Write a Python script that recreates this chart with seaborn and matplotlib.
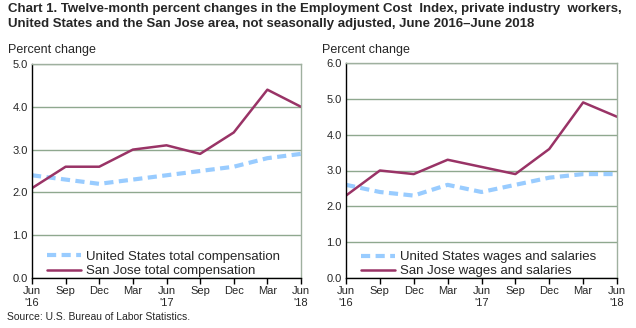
import matplotlib
matplotlib.use("Agg")
import matplotlib.pyplot as plt
import seaborn as sns
import pandas as pd
from matplotlib.lines import Line2D

quarters = ["Jun\n'16", "Sep", "Dec", "Mar", "Jun\n'17", "Sep", "Dec", "Mar", "Jun\n'18"]
us_total = [2.4, 2.3, 2.2, 2.3, 2.4, 2.5, 2.6, 2.8, 2.9]
sj_total = [2.1, 2.6, 2.6, 3.0, 3.1, 2.9, 3.4, 4.4, 4.0]
us_wages = [2.6, 2.4, 2.3, 2.6, 2.4, 2.6, 2.8, 2.9, 2.9]
sj_wages = [2.3, 3.0, 2.9, 3.3, 3.1, 2.9, 3.6, 4.9, 4.5]

sns.set_style("white")
plt.rcParams['font.family'] = ['Liberation Sans', 'DejaVu Sans']

BLUE = "#99CCFF"
MAROON = "#993366"

fig = plt.figure(figsize=(6.36, 3.28), dpi=100)
ax1 = fig.add_axes([32/636, 1-278/328, (301-32)/636, (278-64)/328])
ax2 = fig.add_axes([346/636, 1-278/328, (617-346)/636, (278-63)/328])

def panel(ax, us, sj, us_lab, sj_lab, ymax):
    x = list(range(len(quarters)))
    df = pd.DataFrame({"x": x * 2, "y": us + sj,
                       "series": [us_lab] * len(x) + [sj_lab] * len(x)})
    sns.lineplot(data=df, x="x", y="y", hue="series", style="series",
                 palette=[BLUE, MAROON], dashes=[(2.2, 1.3), ""],
                 ax=ax, legend=False)
    ax.lines[0].set_linewidth(3)
    ax.lines[1].set_linewidth(1.8)
    ax.set_xlim(0, 8)
    ax.set_ylim(0, ymax)
    ax.set_yticks([i for i in range(int(ymax) + 1)])
    ax.set_yticklabels([f"{i:.1f}" for i in range(int(ymax) + 1)], fontsize=8)
    ax.set_xticks(x)
    ax.set_xticklabels(quarters, fontsize=8)
    ax.set_xlabel("")
    ax.set_ylabel("")
    ax.yaxis.grid(True, color="#8FA88F", linewidth=1)
    ax.set_axisbelow(True)
    ax.tick_params(axis="x", direction="out", length=4, width=1, color="black", pad=2, bottom=True)
    ax.tick_params(axis="y", length=0, pad=3)
    for s in ["top", "right"]:
        ax.spines[s].set_color("#9FB09F")
        ax.spines[s].set_linewidth(1)
    for s in ["left", "bottom"]:
        ax.spines[s].set_color("black")
        ax.spines[s].set_linewidth(1)
    handles = [Line2D([], [], color=BLUE, lw=3, linestyle=(0, (2.2, 1.3))),
               Line2D([], [], color=MAROON, lw=1.8)]
    ax.legend(handles, [us_lab, sj_lab], loc="lower left", bbox_to_anchor=(0.02, -0.04),
              frameon=False, fontsize=9.5, handlelength=2.6, handletextpad=0.4,
              labelspacing=0.15, borderaxespad=0.3)

panel(ax1, us_total, sj_total, "United States total compensation", "San Jose total compensation", 5.0)
panel(ax2, us_wages, sj_wages, "United States wages and salaries", "San Jose wages and salaries", 6.0)

fig.text(8/636, 1-3/328, "Chart 1. Twelve-month percent changes in the Employment Cost  Index, private industry  workers,\nUnited States and the San Jose area, not seasonally adjusted, June 2016\u2013June 2018",
         fontsize=9.5, fontweight="bold", va="top", ha="left", linespacing=1.3)
fig.text(8/636, 1-50/328, "Percent change", fontsize=9, va="center", ha="left")
fig.text(322/636, 1-50/328, "Percent change", fontsize=9, va="center", ha="left")
fig.text(7/636, 1-317/328, "Source: U.S. Bureau of Labor Statistics.", fontsize=7.5, va="center", ha="left")

fig.savefig("out.png", dpi=100)
